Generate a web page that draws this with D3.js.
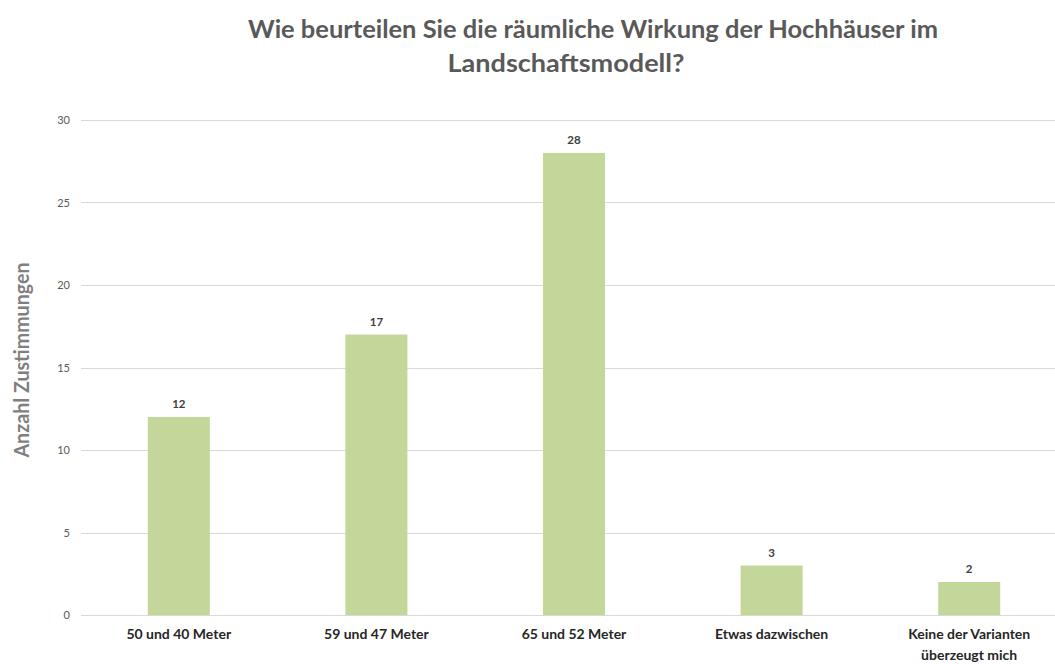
<!DOCTYPE html>
<html><head><meta charset="utf-8">
<script src="https://cdn.jsdelivr.net/npm/d3@7"></script>
<style>body{margin:0;background:#fff}svg{display:block}</style>
</head><body>
<svg id="c" width="1055" height="664"></svg>
<script>
const categories = ["50 und 40 Meter", "59 und 47 Meter", "65 und 52 Meter", "Etwas dazwischen", "Keine der Varianten\nüberzeugt mich"];
const values = [12, 17, 28, 3, 2];
const yTicks = [0, 5, 10, 15, 20, 25, 30];
const titleLines = ["Wie beurteilen Sie die räumliche Wirkung der Hochhäuser im", "Landschaftsmodell?"];
const yAxisTitle = "Anzahl Zustimmungen";

const svg = d3.select("#c");
const font = "Lato, 'Open Sans', sans-serif";
const x = d3.scaleBand().domain(categories).range([80, 1068]).paddingInner(0.686).paddingOuter(0.343);
const y = d3.scaleLinear().domain([0, 30]).range([615, 120]);

// gridlines
svg.append("g").selectAll("line").data(yTicks).join("line")
  .attr("x1", 81).attr("x2", 1055)
  .attr("y1", d => Math.round(y(d)) + 0.5).attr("y2", d => Math.round(y(d)) + 0.5)
  .attr("stroke", "#d9d9d9").attr("stroke-width", 1);

// y tick labels
svg.append("g").selectAll("text").data(yTicks).join("text")
  .attr("x", 70).attr("y", d => y(d) + 4)
  .attr("text-anchor", "end").attr("font-family", font).attr("font-size", 11)
  .attr("fill", "#595959").text(d => d);

// bars
svg.append("g").selectAll("rect").data(values).join("rect")
  .attr("x", (d, i) => x(categories[i])).attr("width", x.bandwidth())
  .attr("y", d => y(d)).attr("height", d => y(0) - y(d))
  .attr("fill", "#c4d79b");

// value labels
svg.append("g").selectAll("text").data(values).join("text")
  .attr("x", (d, i) => x(categories[i]) + x.bandwidth() / 2).attr("y", d => y(d) - 9)
  .attr("text-anchor", "middle").attr("font-family", font).attr("font-size", 11.5).attr("font-weight", "bold")
  .attr("fill", "#404040").text(d => d);

// category labels
const cl = svg.append("g").selectAll("text").data(categories).join("text")
  .attr("text-anchor", "middle").attr("font-family", font).attr("font-size", 14).attr("font-weight", "bold")
  .attr("fill", "#262626");
cl.each(function(d) {
  const t = d3.select(this);
  const cx = x(d) + x.bandwidth() / 2;
  d.split("\n").forEach((line, k) => {
    t.append("tspan").attr("x", cx).attr("y", 639 + k * 21).text(line);
  });
});

// y axis title
svg.append("text")
  .attr("transform", "translate(29,360) rotate(-90)")
  .attr("text-anchor", "middle").attr("font-family", font).attr("font-size", 20).attr("font-weight", "bold")
  .attr("fill", "#7f7f7f").attr("textLength", 195).attr("lengthAdjust", "spacingAndGlyphs").text(yAxisTitle);

// title
svg.append("text").attr("x", 593).attr("y", 38).attr("text-anchor", "middle")
  .attr("font-family", font).attr("font-size", 25).attr("font-weight", "bold").attr("fill", "#595959")
  .attr("textLength", 690).attr("lengthAdjust", "spacingAndGlyphs").text(titleLines[0]);
svg.append("text").attr("x", 566).attr("y", 72).attr("text-anchor", "middle")
  .attr("font-family", font).attr("font-size", 25).attr("font-weight", "bold").attr("fill", "#595959")
  .attr("textLength", 237).attr("lengthAdjust", "spacingAndGlyphs").text(titleLines[1]);
</script>
</body></html>
